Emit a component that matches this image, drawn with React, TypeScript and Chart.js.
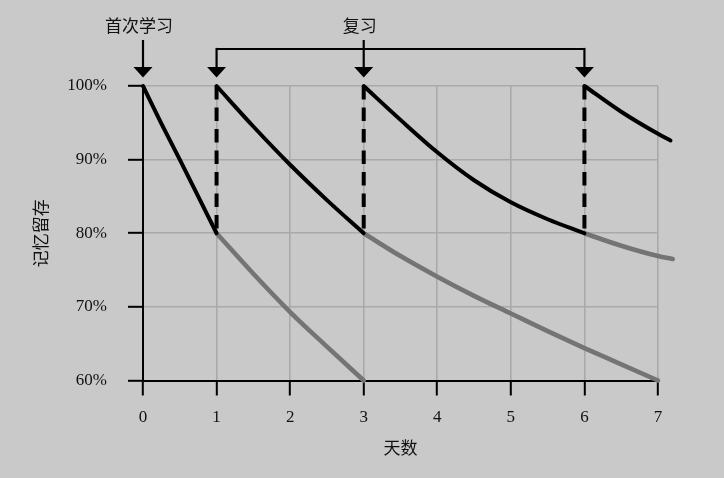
import { useEffect, useRef } from "react";
import { Chart, registerables } from "chart.js";

Chart.register(...registerables);

// ---- data ----
const xTicks = [0, 1, 2, 3, 4, 5, 6, 7];
const yTicks = [60, 70, 80, 90, 100];
const firstStudyDay = 0;
const reviewDays = [1, 3, 6];
const firstStudyLabel = "首次学习";
const reviewLabel = "复习";
const xTitle = "天数";
const yTitle = "记忆留存";

const learnX = [0, 0.25, 0.5, 0.75, 1];
const learnY = [100, 94.9, 90.0, 85.0, 80];
const review1X = [1, 1.5, 2, 2.5, 3];
const review1Y = [100, 94.5, 89.3, 84.5, 80];
const review2X = [3, 3.5, 4, 4.5, 5, 5.5, 6];
const review2Y = [100, 95.4, 91.0, 87.2, 84.2, 81.9, 80];
const review3X = [6, 6.5, 7, 7.17];
const review3Y = [100, 96.5, 93.5, 92.6];

const forget1X = [1, 1.5, 2, 2.5, 3];
const forget1Y = [80, 74.5, 69.3, 64.6, 60];
const forget2X = [3, 3.5, 4, 4.5, 5, 5.5, 6, 6.5, 7];
const forget2Y = [80, 76.9, 74.1, 71.5, 69.1, 66.7, 64.4, 62.2, 60];
const forget3X = [6, 6.5, 7, 7.2];
const forget3Y = [80, 78.3, 76.9, 76.5];

const reviewTop = 100;
const reviewBottom = 80;

const BG = "#c9c9c9";
const GRID = "#a9a9a9";
const GRAY_LINE = "#747474";

const pts = (xs: number[], ys: number[]) => xs.map((x, i) => ({ x, y: ys[i] }));

const curve = (xs: number[], ys: number[], color: string, width: number, order: number) => ({
  data: pts(xs, ys),
  showLine: true,
  borderColor: color,
  borderWidth: width,
  pointRadius: 0,
  tension: 0.4,
  cubicInterpolationMode: "monotone" as const,
  borderCapStyle: "round" as const,
  borderJoinStyle: "round" as const,
  clip: false as const,
  order,
});

const annotationPlugin = {
  id: "annotations",
  afterDraw(chart: any) {
    const { ctx, chartArea } = chart;
    const x = chart.scales.x;
    const top = chartArea.top;
    const tipY = top - 8.5;
    const headH = 10.5;
    const headW = 9.5;
    const stemTop = top - 46;
    const bracketY = top - 37;
    const textY = top - 60;

    ctx.save();
    ctx.strokeStyle = "#000";
    ctx.fillStyle = "#000";
    ctx.lineWidth = 2.2;
    ctx.lineCap = "butt";

    const arrow = (px: number, fromY: number) => {
      ctx.beginPath();
      ctx.moveTo(px, fromY);
      ctx.lineTo(px, tipY - headH + 1);
      ctx.stroke();
      ctx.beginPath();
      ctx.moveTo(px - headW, tipY - headH);
      ctx.lineTo(px + headW, tipY - headH);
      ctx.lineTo(px, tipY);
      ctx.closePath();
      ctx.fill();
    };

    const p0 = x.getPixelForValue(firstStudyDay);
    arrow(p0, stemTop);

    const rp = reviewDays.map((d) => x.getPixelForValue(d));
    const left = Math.min(...rp);
    const right = Math.max(...rp);
    ctx.beginPath();
    ctx.moveTo(left, bracketY);
    ctx.lineTo(right, bracketY);
    ctx.stroke();
    rp.forEach((px) => {
      const isEnd = px === left || px === right;
      arrow(px, isEnd ? bracketY - 1.1 : stemTop);
    });

    ctx.font = "17px 'Noto Sans CJK SC'";
    ctx.textAlign = "center";
    ctx.textBaseline = "middle";
    ctx.fillStyle = "#111";
    ctx.fillText(firstStudyLabel, p0 - 4, textY);
    const mid = x.getPixelForValue(reviewDays[1]);
    ctx.fillText(reviewLabel, mid - 4, textY);
    ctx.restore();
  },
};

export default function App() {
  const ref = useRef<HTMLCanvasElement | null>(null);

  useEffect(() => {
    if (!ref.current) return;
    const datasets: any[] = [
      curve(forget1X, forget1Y, GRAY_LINE, 4.6, 3),
      curve(forget2X, forget2Y, GRAY_LINE, 4.6, 3),
      curve(forget3X, forget3Y, GRAY_LINE, 4.6, 3),
      curve(learnX, learnY, "#000", 4, 2),
      curve(review1X, review1Y, "#000", 4, 2),
      curve(review2X, review2Y, "#000", 4, 2),
      curve(review3X, review3Y, "#000", 4, 2),
      ...reviewDays.map((d) => ({
        data: [
          { x: d, y: reviewTop },
          { x: d, y: reviewBottom },
        ],
        showLine: true,
        borderColor: "#000",
        borderWidth: 4,
        borderDash: [13.5, 8],
        borderCapStyle: "butt",
        pointRadius: 0,
        clip: false,
        order: 1,
      })),
    ];

    const tickFont = { family: "'Liberation Serif', 'Times New Roman', serif", size: 17 };
    const titleFont = { family: "'Noto Sans CJK SC', sans-serif", size: 17 };

    const chart = new Chart(ref.current, {
      type: "scatter",
      data: { datasets },
      plugins: [annotationPlugin],
      options: {
        animation: false,
        responsive: false,
        layout: { padding: { top: 86, right: 66, left: 0, bottom: 0 } },
        plugins: {
          legend: { display: false },
          tooltip: { enabled: false },
        },
        scales: {
          x: {
            type: "linear",
            afterDataLimits: (s: any) => {
              s.min = xTicks[0];
              s.max = xTicks[xTicks.length - 1];
            },
            afterFit: (s: any) => {
              s.height = 97.5;
            },
            afterBuildTicks: (s: any) => {
              s.ticks = xTicks.map((v) => ({ value: v }));
              s.min = xTicks[0];
              s.max = xTicks[xTicks.length - 1];
            },
            grid: {
              color: GRID,
              lineWidth: 1.6,
              tickColor: "#000",
              tickWidth: 2,
              tickLength: 15,
            },
            border: { display: true, color: "#000", width: 2 },
            ticks: {
              font: tickFont,
              color: "#111",
              padding: 12,
              maxRotation: 0,
              callback: (v: any) => String(v),
            },
            title: {
              display: true,
              text: xTitle,
              font: titleFont,
              color: "#111",
              padding: { top: 0, bottom: 20 },
            },
          },
          y: {
            type: "linear",
            min: yTicks[0],
            max: yTicks[yTicks.length - 1],
            afterFit: (s: any) => {
              s.width = 143;
            },
            afterBuildTicks: (s: any) => {
              s.ticks = yTicks.map((v) => ({ value: v }));
            },
            grid: {
              color: GRID,
              lineWidth: 1.6,
              tickColor: "#000",
              tickWidth: 2,
              tickLength: 15,
            },
            border: { display: true, color: "#000", width: 2 },
            ticks: {
              font: tickFont,
              color: "#111",
              padding: 21,
              callback: (v: any) => v + "%",
            },
            title: {
              display: true,
              text: yTitle,
              font: titleFont,
              color: "#111",
              padding: { top: 30, bottom: 0 },
            },
          },
        },
      },
    });
    return () => chart.destroy();
  }, []);

  return (
    <div
      style={{
        position: "fixed",
        left: 0,
        top: 0,
        width: 724,
        height: 478,
        background: BG,
      }}
    >
      <canvas ref={ref} width={724} height={478} style={{ display: "block" }} />
    </div>
  );
}
